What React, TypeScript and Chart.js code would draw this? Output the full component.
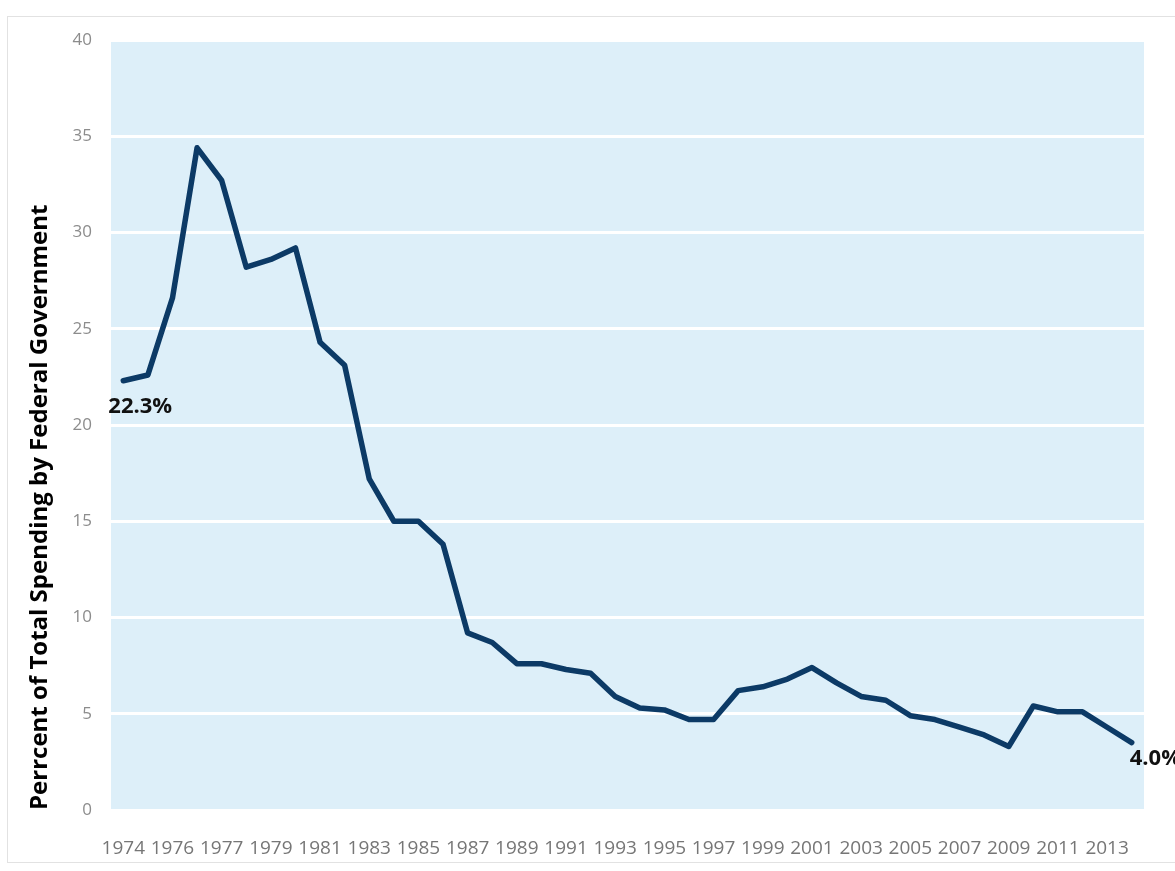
import React, { useEffect, useRef } from "react";
import { Chart, registerables } from "chart.js";

Chart.register(...registerables);

const years: string[] = [
  "1974", "1975", "1976", "1976 TQ", "1977", "1978", "1979", "1980", "1981", "1982",
  "1983", "1984", "1985", "1986", "1987", "1988", "1989", "1990", "1991", "1992",
  "1993", "1994", "1995", "1996", "1997", "1998", "1999", "2000", "2001", "2002",
  "2003", "2004", "2005", "2006", "2007", "2008", "2009", "2010", "2011", "2012",
  "2013", "2014",
];

const federalShare: number[] = [
  22.3, 22.6, 26.6, 34.4, 32.7, 28.2, 28.6, 29.2, 24.3, 23.1,
  17.2, 15.0, 15.0, 13.8, 9.2, 8.7, 7.6, 7.6, 7.3, 7.1,
  5.9, 5.3, 5.2, 4.7, 4.7, 6.2, 6.4, 6.8, 7.4, 6.6,
  5.9, 5.7, 4.9, 4.7, 4.3, 3.9, 3.3, 5.4, 5.1, 5.1,
  4.3, 3.5,
];

const yMin = 0;
const yMax = 40;
const yStep = 5;

const pointLabels: { index: number; text: string }[] = [
  { index: 0, text: "22.3%" },
  { index: 41, text: "4.0%" },
];

const yTitle = "Perrcent of Total Spending by Federal Government";

export default function App() {
  const ref = useRef<HTMLCanvasElement>(null);

  useEffect(() => {
    if (!ref.current) return;

    const bgPlugin = {
      id: "plotBg",
      beforeDraw(chart: any) {
        const { ctx, chartArea: a } = chart;
        ctx.save();
        ctx.fillStyle = "#ddeff9";
        ctx.fillRect(a.left, a.top, a.right - a.left, a.bottom - a.top);
        ctx.restore();
      },
    };

    const labelPlugin = {
      id: "pointLabels",
      afterDatasetsDraw(chart: any) {
        const { ctx } = chart;
        const meta = chart.getDatasetMeta(0);
        ctx.save();
        ctx.font = "bold 22px 'Open Sans', 'Noto Sans', sans-serif";
        ctx.fillStyle = "#111111";
        ctx.textBaseline = "middle";
        ctx.textAlign = "left";
        pointLabels.forEach((pl, k) => {
          const el = meta.data[pl.index];
          if (!el) return;
          const dx = k === 0 ? -15 : -2;
          const dy = k === 0 ? 26 : 16;
          ctx.fillText(pl.text, el.x + dx, el.y + dy);
        });
        ctx.restore();
      },
    };

    const chart = new Chart(ref.current, {
      type: "line",
      data: {
        labels: years,
        datasets: [
          {
            data: federalShare,
            borderColor: "#0c3a66",
            borderWidth: 5.5,
            pointRadius: 0,
            tension: 0,
            fill: false,
            borderJoinStyle: "round",
            borderCapStyle: "round",
          },
        ],
      },
      options: {
        responsive: false,
        animation: false,
        layout: { padding: { left: 22, right: 31, top: 40, bottom: 0 } },
        plugins: {
          legend: { display: false },
          tooltip: { enabled: false },
        },
        scales: {
          x: {
            offset: true,
            grid: { display: false, drawTicks: false },
            border: { display: false },
            ticks: {
              autoSkip: false,
              maxRotation: 0,
              minRotation: 0,
              padding: 27,
              color: "#767676",
              font: { size: 19, family: "'Open Sans', 'Noto Sans', sans-serif" },
              callback: (_v: any, i: number) => (i % 2 === 0 ? years[i] : ""),
            },
            afterFit: (s: any) => {
              s.height = 61;
            },
          },
          y: {
            min: yMin,
            max: yMax,
            grid: { color: "#ffffff", lineWidth: 3, drawTicks: false },
            border: { display: false },
            ticks: {
              stepSize: yStep,
              padding: 19,
              color: "#8c8c8c",
              font: { size: 17, family: "'Open Sans', 'Noto Sans', sans-serif" },
            },
            title: {
              display: true,
              text: yTitle,
              align: "start",
              color: "#000000",
              font: { size: 24, weight: "bold", family: "'Open Sans', 'Noto Sans', sans-serif" },
              padding: { top: 4, bottom: 0 },
            },
            afterFit: (s: any) => {
              s.width = 89;
            },
          },
        },
      },
      plugins: [bgPlugin, labelPlugin],
    } as any);

    return () => chart.destroy();
  }, []);

  return (
    <div
      style={{
        position: "absolute",
        left: 0,
        top: 0,
        width: 1175,
        height: 871,
        background: "#ffffff",
        overflow: "hidden",
      }}
    >
      <div
        style={{
          position: "absolute",
          left: 7,
          top: 16,
          width: 1180,
          height: 845,
          borderTop: "1px solid #e2e2e2",
          borderLeft: "1px solid #e2e2e2",
          borderBottom: "1px solid #e2e2e2",
        }}
      />
      <canvas
        ref={ref}
        width={1175}
        height={871}
        style={{ position: "absolute", left: 0, top: 0 }}
      />
    </div>
  );
}
